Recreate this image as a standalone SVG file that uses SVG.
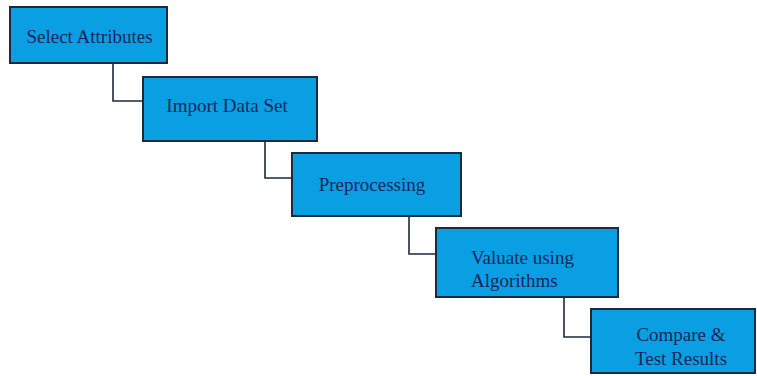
<svg xmlns="http://www.w3.org/2000/svg" width="757" height="376" viewBox="0 0 757 376">
<style>
.box{fill:#0a9fe3;stroke:#1b2a3c;stroke-width:2}
.lbl{font-family:"Liberation Serif",serif;font-size:19px;fill:#14285a}
.conn{fill:none;stroke:#1b2a3c;stroke-width:1.6}
</style>
<rect width="757" height="376" fill="#ffffff"/>
<g id="connectors">
<path class="conn" d="M113 63 V101 H143"/>
<path class="conn" d="M265 141 V178 H292"/>
<path class="conn" d="M409 216 V254 H436"/>
<path class="conn" d="M564 297 V337 H591"/>
</g>
<g id="n1"><rect class="box" x="10" y="7" width="157" height="56"/><text class="lbl" x="89.5" y="43" text-anchor="middle">Select Attributes</text></g>
<g id="n2"><rect class="box" x="143" y="77" width="174" height="64"/><text class="lbl" x="227" y="112" text-anchor="middle">Import Data Set</text></g>
<g id="n3"><rect class="box" x="292" y="153" width="169" height="63"/><text class="lbl" x="372" y="191" text-anchor="middle">Preprocessing</text></g>
<g id="n4"><rect class="box" x="436" y="228" width="182" height="69"/><text class="lbl" x="471" y="264">Valuate using</text><text class="lbl" x="471" y="287">Algorithms</text></g>
<g id="n5"><rect class="box" x="591" y="309" width="164" height="64"/><text class="lbl" x="681" y="341" text-anchor="middle">Compare &amp;</text><text class="lbl" x="681" y="365" text-anchor="middle">Test Results</text></g>
</svg>
